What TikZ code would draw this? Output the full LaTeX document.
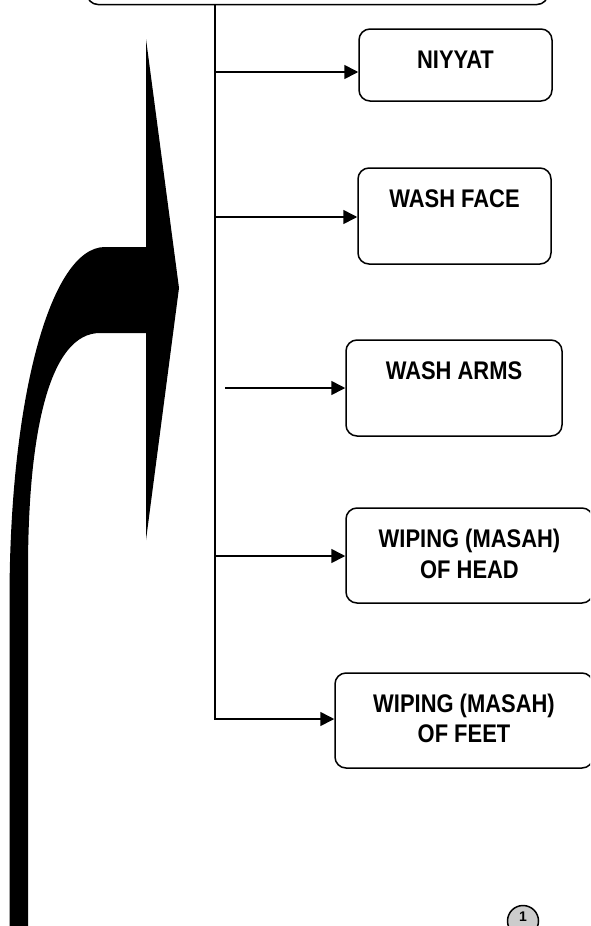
\documentclass[tikz,border=0pt]{standalone}
\usepackage{fontspec}
\setmainfont{Liberation Sans}
\newfontfamily\boxfont[FakeStretch=0.86]{Liberation Sans}
\usetikzlibrary{arrows.meta}
\tikzset{
  box/.style={draw=black, line width=1.5pt, rounded corners=11pt, fill=white, inner sep=0pt},
  lbl/.style={font=\boxfont\bfseries\fontsize{25.5}{31}\selectfont, anchor=base, inner sep=0pt, text=black},
  conn/.style={line width=1.6pt, draw=black},
  arr/.style={conn, -{Triangle[length=14pt,width=14pt]}}
}
\begin{document}
\begin{tikzpicture}[x=1pt,y=-1pt]
\useasboundingbox (0,0) rectangle (590,926);
\clip (0,0) rectangle (590,926);

% top box (mostly cut off)
\node[box, minimum width=461pt, minimum height=50pt] (top) at (317.5,-20.5) {};

% step boxes
\node[box, minimum width=193pt, minimum height=72pt] (niyyat) at (455.5,65) {};
\node[lbl] (tniyyat) at (455.5,68) {NIYYAT};

\node[box, minimum width=193pt, minimum height=96pt] (face) at (454.5,216) {};
\node[lbl] (tface) at (454.5,207) {WASH FACE};

\node[box, minimum width=216pt, minimum height=96pt] (arms) at (454,388) {};
\node[lbl] (tarms) at (454,379) {WASH ARMS};

\node[box, minimum width=247pt, minimum height=95pt] (head) at (469.5,555.5) {};
\node[lbl] (thead1) at (469.5,547) {WIPING (MASAH)};
\node[lbl] (thead2) at (469.5,578) {OF HEAD};

\node[box, minimum width=258pt, minimum height=95pt] (feet) at (464,720.5) {};
\node[lbl] (tfeet1) at (464,712) {WIPING (MASAH)};
\node[lbl] (tfeet2) at (464,742) {OF FEET};

% junction points on the trunk
\coordinate (j1) at (215,72);
\coordinate (j2) at (215,217);
\coordinate (a3) at (225,388);
\coordinate (j4) at (215,556);
\coordinate (j5) at (215,719);

% trunk and connectors
\draw[arr] (top.south -| j5) -- (j5) -- (j5 -| feet.west);
\draw[arr] (j1) -- (j1 -| niyyat.west);
\draw[arr] (j2) -- (j2 -| face.west);
\draw[arr] (a3) -- (a3 -| arms.west);
\draw[arr] (j4) -- (j4 -| head.west);

% big curved black arrow
\fill[black] (146,39) -- (179,288) -- (146,540) -- (146,333) -- (100,333)
  .. controls (50,333) and (28,430) .. (28,570) -- (28,930) -- (9.5,930) -- (9.5,600)
  .. controls (9.5,400) and (50,247) .. (105,247) -- (146,247) -- cycle;

% page connector circle
\node[circle, draw=black, line width=1.5pt, fill=black!20, minimum size=31pt, inner sep=0pt] (pg) at (523,921) {};
\node[font=\bfseries\fontsize{14}{14}\selectfont, anchor=center, inner sep=0pt] (pgnum) at (523,917) {1};
\end{tikzpicture}
\end{document}
